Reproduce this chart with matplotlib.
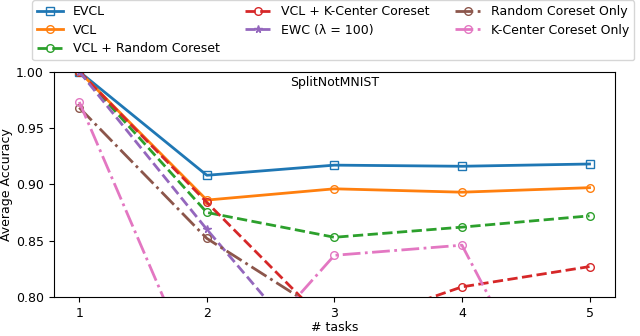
import matplotlib
matplotlib.use('Agg')
import matplotlib.pyplot as plt

plt.rcParams['font.size'] = 9

tasks = [1, 2, 3, 4, 5]

evcl = [1.0, 0.908, 0.917, 0.916, 0.918]
vcl = [1.0, 0.886, 0.896, 0.893, 0.897]
vcl_random = [1.0, 0.875, 0.853, 0.862, 0.872]
vcl_kcenter = [1.0, 0.884, 0.770, 0.809, 0.827]
ewc = [1.0, 0.860, 0.727, 0.700, 0.680]
random_only = [0.968, 0.852, 0.780, 0.760, 0.750]
kcenter_only = [0.973, 0.710, 0.837, 0.846, 0.630]

fig, ax = plt.subplots(figsize=(6.4, 3.36), dpi=100)

lw = 2
ms = 5.5
ax.plot(tasks, evcl, color='tab:blue', ls='-', lw=lw, marker='s', ms=ms, mfc='none', label='EVCL')
ax.plot(tasks, vcl, color='tab:orange', ls='-', lw=lw, marker='o', ms=ms, mfc='none', label='VCL')
ax.plot(tasks, vcl_random, color='tab:green', ls='--', lw=lw, marker='o', ms=ms, mfc='none', label='VCL + Random Coreset')
ax.plot(tasks, vcl_kcenter, color='tab:red', ls='--', lw=lw, marker='o', ms=ms, mfc='none', label='VCL + K-Center Coreset')
ax.plot(tasks, ewc, color='tab:purple', ls='--', lw=lw, marker='*', ms=ms, label='EWC (λ = 100)')
ax.plot(tasks, random_only, color='tab:brown', ls='-.', lw=lw, marker='o', ms=ms, mfc='none', label='Random Coreset Only')
ax.plot(tasks, kcenter_only, color='tab:pink', ls='-.', lw=lw, marker='o', ms=ms, mfc='none', label='K-Center Coreset Only')

ax.set_ylim(0.8, 1.0)
ax.set_yticks([0.80, 0.85, 0.90, 0.95, 1.00])
ax.set_xticks(tasks)
ax.set_xlabel('# tasks', labelpad=1)
ax.set_ylabel('Average Accuracy', labelpad=2)
ax.set_title('SplitNotMNIST', y=0.9, fontsize=9)

fig.subplots_adjust(left=0.084, right=0.961, bottom=0.116, top=0.787)
fig.legend(loc='upper left', bbox_to_anchor=(32 / 640, 1.0), ncol=3, fontsize=9,
           handlelength=2.1, columnspacing=2.0, labelspacing=0.45, borderaxespad=0.0)

fig.savefig('out.png', dpi=100)
